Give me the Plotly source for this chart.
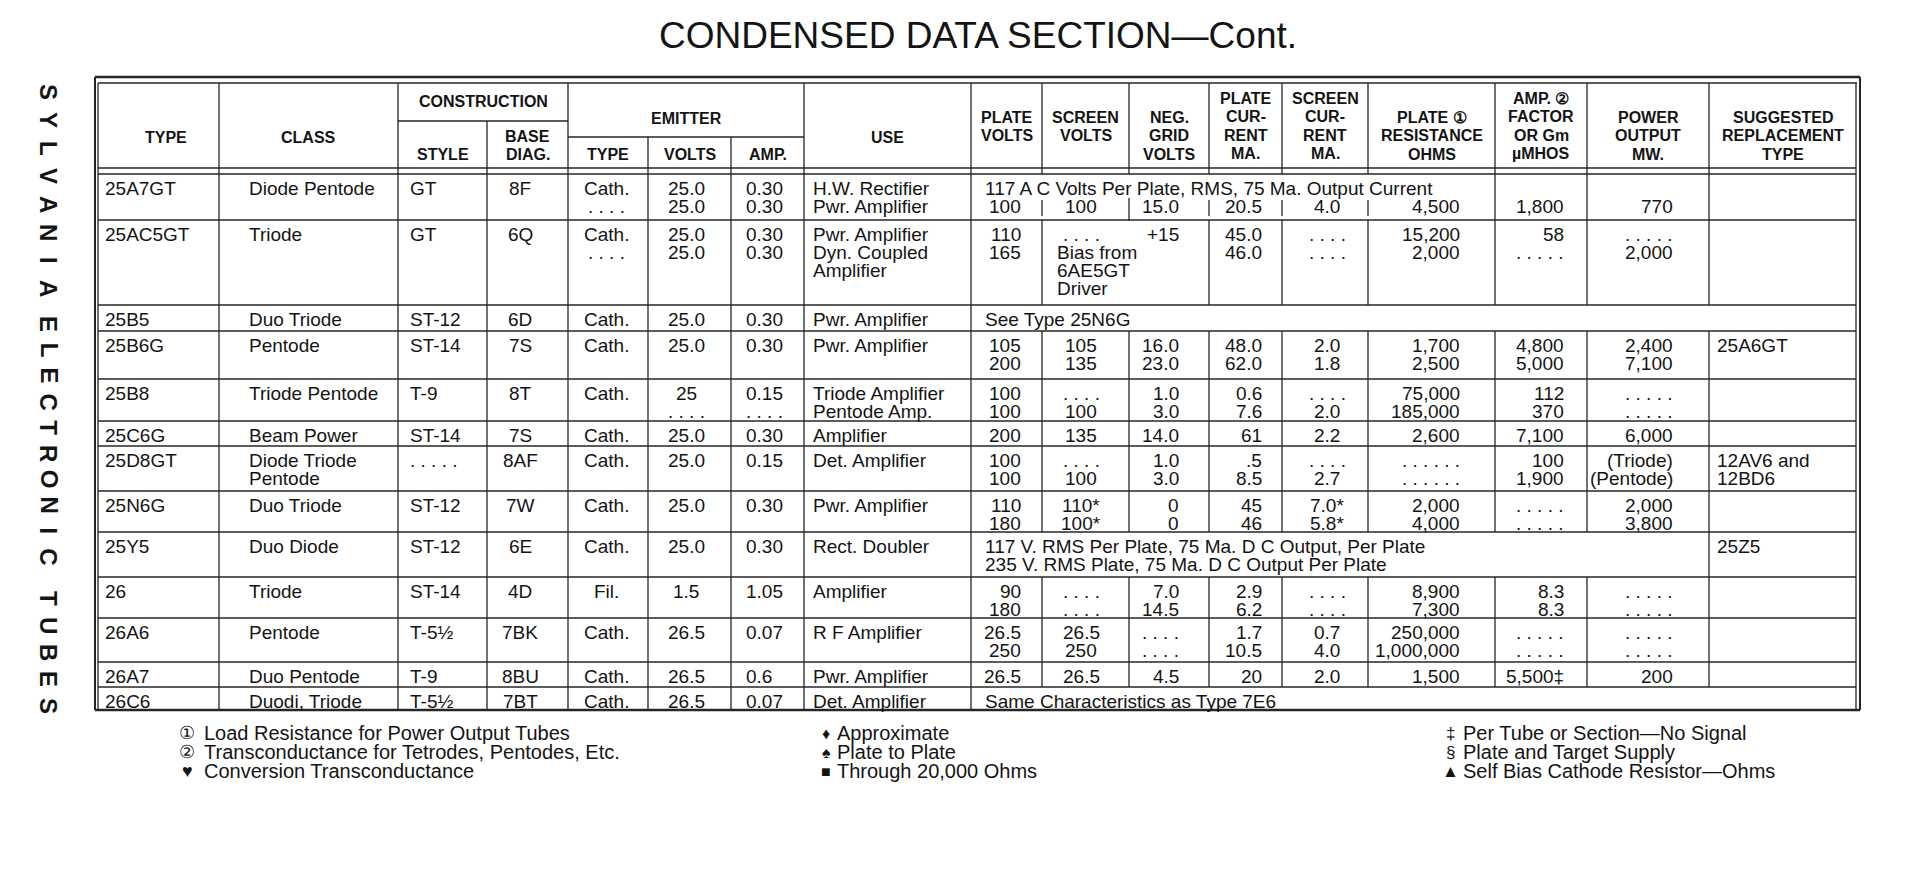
import plotly.graph_objects as go

W, H = 1913, 878
INK = "#141414"
RULE = "#262626"
BODY_FONT = "Liberation Sans, Arial, sans-serif"

# ---------------- table data ----------------
D4 = ". . . ."
D5 = ". . . . ."
D6 = ". . . . . ."

tube_types = ["25A7GT", "25AC5GT", "25B5", "25B6G", "25B8", "25C6G", "25D8GT",
              "25N6G", "25Y5", "26", "26A6", "26A7", "26C6"]
tube_class = ["Diode Pentode", "Triode", "Duo Triode", "Pentode", "Triode Pentode",
              "Beam Power", "Diode Triode\nPentode", "Duo Triode", "Duo Diode",
              "Triode", "Pentode", "Duo Pentode", "Duodi, Triode"]
styles = ["GT", "GT", "ST-12", "ST-14", "T-9", "ST-14", D5, "ST-12", "ST-12",
          "ST-14", "T-5½", "T-9", "T-5½"]
base_diag = ["8F", "6Q", "6D", "7S", "8T", "7S", "8AF", "7W", "6E", "4D", "7BK", "8BU", "7BT"]
emitter_type = ["Cath.\n" + D4, "Cath.\n" + D4, "Cath.", "Cath.", "Cath.", "Cath.", "Cath.",
                "Cath.", "Cath.", "Fil.", "Cath.", "Cath.", "Cath."]
emitter_volts = ["25.0\n25.0", "25.0\n25.0", "25.0", "25.0", "25\n" + D4, "25.0", "25.0",
                 "25.0", "25.0", "1.5", "26.5", "26.5", "26.5"]
emitter_amp = ["0.30\n0.30", "0.30\n0.30", "0.30", "0.30", "0.15\n" + D4, "0.30", "0.15",
               "0.30", "0.30", "1.05", "0.07", "0.6", "0.07"]
uses = ["H.W. Rectifier\nPwr. Amplifier", "Pwr. Amplifier\nDyn. Coupled\nAmplifier",
        "Pwr. Amplifier", "Pwr. Amplifier", "Triode Amplifier\nPentode Amp.", "Amplifier",
        "Det. Amplifier", "Pwr. Amplifier", "Rect. Doubler", "Amplifier", "R F Amplifier",
        "Pwr. Amplifier", "Det. Amplifier"]
plate_volts = ["\n100", "110\n165", "", "105\n200", "100\n100", "200", "100\n100",
               "110\n180", "", "90\n180", "26.5\n250", "26.5", ""]
screen_volts = ["\n100", D4, "", "105\n135", D4 + "\n100", "135", D4 + "\n100",
                "110*\n100*", "", D4 + "\n" + D4, "26.5\n250", "26.5", ""]
grid_volts = ["\n15.0", "+15", "", "16.0\n23.0", "1.0\n3.0", "14.0", "1.0\n3.0", "0\n0",
              "", "7.0\n14.5", D4 + "\n" + D4, "4.5", ""]
plate_ma = ["\n20.5", "45.0\n46.0", "", "48.0\n62.0", "0.6\n7.6", "61", ".5\n8.5",
            "45\n46", "", "2.9\n6.2", "1.7\n10.5", "20", ""]
screen_ma = ["\n4.0", D4 + "\n" + D4, "", "2.0\n1.8", D4 + "\n2.0", "2.2", D4 + "\n2.7",
             "7.0*\n5.8*", "", D4 + "\n" + D4, "0.7\n4.0", "2.0", ""]
plate_ohms = ["\n4,500", "15,200\n2,000", "", "1,700\n2,500", "75,000\n185,000", "2,600",
              D6 + "\n" + D6, "2,000\n4,000", "", "8,900\n7,300", "250,000\n1,000,000",
              "1,500", ""]
gm_umhos = ["\n1,800", "58\n" + D5, "", "4,800\n5,000", "112\n370", "7,100", "100\n1,900",
            D5 + "\n" + D5, "", "8.3\n8.3", D5 + "\n" + D5, "5,500‡", ""]
power_mw = ["\n770", D5 + "\n2,000", "", "2,400\n7,100", D5 + "\n" + D5, "6,000",
            "(Triode)\n(Pentode)", "2,000\n3,800", "", D5 + "\n" + D5, D5 + "\n" + D5,
            "200", ""]
replacement = ["", "", "", "25A6GT", "", "", "12AV6 and\n12BD6", "", "25Z5", "", "", "", ""]

span_notes = ["117 A C Volts Per Plate, RMS, 75 Ma. Output Current", "", "See Type 25N6G",
              "", "", "", "", "",
              "117 V. RMS Per Plate, 75 Ma. D C Output, Per Plate\n"
              "235 V. RMS Plate, 75 Ma. D C Output Per Plate",
              "", "", "", "Same Characteristics as Type 7E6"]
screen_notes = ["", "\nBias from\n6AE5GT\nDriver", "", "", "", "", "", "", "", "", "", "", ""]

columns = [tube_types, tube_class, styles, base_diag, emitter_type, emitter_volts,
           emitter_amp, uses, plate_volts, screen_volts, grid_volts, plate_ma, screen_ma,
           plate_ohms, gm_umhos, power_mw, replacement]

header_labels = ["TYPE", "CLASS", "STYLE", "BASE\nDIAG.", "TYPE", "VOLTS", "AMP.", "USE",
                 "PLATE\nVOLTS", "SCREEN\nVOLTS", "NEG.\nGRID\nVOLTS", "PLATE\nCUR-\nRENT\nMA.",
                 "SCREEN\nCUR-\nRENT\nMA.", "PLATE ①\nRESISTANCE\nOHMS",
                 "AMP. ②\nFACTOR\nOR Gm\nµMHOS", "POWER\nOUTPUT\nMW.",
                 "SUGGESTED\nREPLACEMENT\nTYPE"]
group_labels = ["CONSTRUCTION", "EMITTER"]

title_text = "CONDENSED DATA SECTION—Cont."
spine_words = ["SYLVANIA", "ELECTRONIC", "TUBES"]

notes_left = [("①", "Load Resistance for Power Output Tubes"),
              ("②", "Transconductance for Tetrodes, Pentodes, Etc."),
              ("♥", "Conversion Transconductance")]
notes_mid = [("♦", "Approximate"), ("♠", "Plate to Plate"), ("■", "Through 20,000 Ohms")]
notes_right = [("‡", "Per Tube or Section—No Signal"), ("§", "Plate and Target Supply"),
               ("▲", "Self Bias Cathode Resistor—Ohms")]

# ---------------- layout geometry ----------------
col_x = [98, 219, 398, 487, 568, 648, 731, 804, 971, 1042, 1129, 1209, 1282, 1368,
         1495, 1587, 1709, 1856]
row_y = [174, 220, 305, 331, 379, 421, 446, 491, 532, 577, 618, 662, 687, 709]
col_align = [("left", 103), ("left", 247), ("left", 408), ("center", 520),
             ("center", 606), ("center", 686), ("left", 744), ("left", 811),
             ("right", 1023), ("center", 1081), ("right", 1181), ("right", 1264),
             ("center", 1327), ("right", 1462), ("right", 1566), ("right", 1675),
             ("left", 1715)]
hdr_y0 = [137, 137, 154, 136, 154, 154, 154, 137, 117, 117, 117, 98, 98, 117, 98, 117, 117]
hdr_dx = [7, 0, 0, 0, 0, 0, 0, 0, 0, 0, 0, 0, 0, 0, 0, 0, 0]
HDR_STEP = 18.6
LINE_STEP = 18
FIRST = 14.5
# boundaries (index into col_x) that are not drawn in a body row
skip_bounds = {0: {9, 10, 11, 12, 13}, 1: {10}, 2: set(range(9, 17)),
               8: set(range(9, 16)), 12: set(range(9, 17))}

annotations = []
shapes = []


def put(text, x, y, anchor="left", size=19, weight="normal", **kw):
    annotations.append(dict(text=text, x=x, y=y, xref="x", yref="y", xanchor=anchor,
                            yanchor="middle", showarrow=False,
                            font=dict(family=BODY_FONT, size=size, color=INK, weight=weight),
                            **kw))


def rule(x0, y0, x1, y1, w=1.3):
    shapes.append(dict(type="line", xref="x", yref="y", x0=x0, y0=y0, x1=x1, y1=y1,
                       line=dict(color=RULE, width=w)))


def put_lines(text, x, top, anchor, step=LINE_STEP, size=19):
    for k, line in enumerate(text.split("\n")):
        if line:
            put(line, x, top + FIRST + k * step, anchor, size=size)


# title and spine
put(title_text, 978, 35, "center", size=37)
spine_start = [92, 324, 598]
spine_step = [28.0, 25.8, 27.0]
for word, y0, st in zip(spine_words, spine_start, spine_step):
    for i, ch in enumerate(word):
        put(ch, 49, y0 + i * st, "center", size=24, weight="bold", textangle=90)

# frame
rule(95, 77, 1860, 77, 2.4)
rule(98, 83, 1857, 83, 1.3)
rule(95, 77, 95, 710, 2.0)
rule(1860, 77, 1860, 710, 2.0)
rule(98, 83, 98, 709, 1.3)
rule(1856, 83, 1856, 709, 1.3)
rule(95, 710, 1860, 710, 2.4)
rule(98, 168, 1856, 168, 1.3)
rule(98, 174, 1856, 174, 1.3)
for yy in row_y[1:-1]:
    rule(98, yy, 1856, yy, 1.3)

# header
rule(col_x[2], 121, col_x[4], 121)
rule(col_x[4], 137, col_x[7], 137)
for b in range(1, 17):
    top = 83
    if b == 3:
        top = 121
    elif b in (5, 6):
        top = 137
    rule(col_x[b], top, col_x[b], 174)
put(group_labels[0], (col_x[2] + col_x[4]) / 2, 101, "center", size=16, weight="bold")
put(group_labels[1], (col_x[4] + col_x[7]) / 2, 118, "center", size=16, weight="bold")
for c, lab in enumerate(header_labels):
    cx = (col_x[c] + col_x[c + 1]) / 2 + hdr_dx[c]
    for k, line in enumerate(lab.split("\n")):
        put(line, cx, hdr_y0[c] + k * HDR_STEP, "center", size=16, weight="bold")

# body
for r in range(len(tube_types)):
    top, bot = row_y[r], row_y[r + 1]
    for b in range(1, 17):
        if b not in skip_bounds.get(r, set()):
            rule(col_x[b], top, col_x[b], bot)
    for c, col in enumerate(columns):
        anchor, x = col_align[c]
        if col[r]:
            put_lines(col[r], x, top, anchor)
    if span_notes[r]:
        put_lines(span_notes[r], 983, top, "left")
    if screen_notes[r]:
        put_lines(screen_notes[r], 1055, top, "left")

# short dividers in the 25A7GT row
for b in (9, 11, 12, 13):
    rule(col_x[b], 200, col_x[b], 216)
rule(col_x[10], 198, col_x[10], 221)

# footnotes
for k in range(3):
    yy = 733 + k * 19
    put(notes_left[k][0], 187, yy, "center", size=18)
    put(notes_left[k][1], 202, yy, "left", size=20)
    put(notes_mid[k][0], 826, yy, "center", size=16)
    put(notes_mid[k][1], 835, yy, "left", size=20)
    put(notes_right[k][0], 1450, yy, "center", size=17)
    put(notes_right[k][1], 1461, yy, "left", size=20)

fig = go.Figure(go.Scatter(x=[0, W], y=[0, H], mode="markers", marker=dict(opacity=0),
                           hoverinfo="skip"))
fig.update_layout(
    width=W, height=H, autosize=False,
    margin=dict(l=0, r=0, t=0, b=0),
    paper_bgcolor="white", plot_bgcolor="white",
    xaxis=dict(range=[0, W], visible=False, fixedrange=True),
    yaxis=dict(range=[H, 0], visible=False, fixedrange=True),
    showlegend=False,
    annotations=annotations,
    shapes=shapes,
)
fig.write_html("out.html", config={"displayModeBar": False},
               post_script="document.body.style.margin='0';document.body.style.overflow='hidden';")
